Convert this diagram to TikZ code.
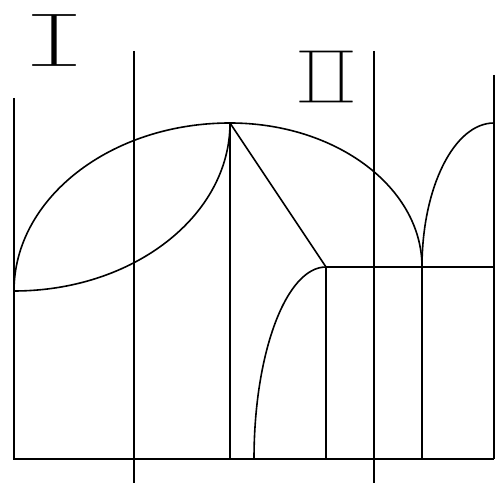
\documentclass[tikz,border=0pt]{standalone}
\usepackage{fontspec}
\newfontfamily\romanthin[FakeStretch=0.4]{DejaVu Serif}
\newcommand\erode[1]{\special{pdf:literal direct 2 Tr 1 1 1 RG #1 w}}
\begin{document}
\begin{tikzpicture}[x=1pt,y=1pt,line width=1.6pt,
  roman/.style={font=\romanthin\fontsize{74}{74}\selectfont,inner sep=0pt}]
\useasboundingbox (0,0) rectangle (497,486);
% named points
\coordinate (LT) at (14,388);
\coordinate (LB) at (14,27);
\coordinate (RB) at (494,27);
\coordinate (RT) at (494,411);
\coordinate (AT) at (134,435);
\coordinate (AB) at (134,3);
\coordinate (BT) at (374,435);
\coordinate (BB) at (374,3);
\coordinate (P) at (230,363);
\coordinate (PB) at (230,27);
\coordinate (Q) at (326,219);
\coordinate (QB) at (326,27);
\coordinate (E) at (422,219);
\coordinate (EB) at (422,27);
\coordinate (F) at (494,219);
\coordinate (L) at (14,195);
\coordinate (S) at (254,27);
% frame lines
\draw (LT) -- (LB) -- (RB);
\draw (RT) -- (RB);
\draw (AT) -- (AB);
\draw (BT) -- (BB);
\draw (P) -- (PB);
\draw (Q) -- (QB);
\draw (E) -- (EB);
\draw (Q) -- (F);
% curves
\draw (L) arc[start angle=180,end angle=90,x radius=216,y radius=168];
\draw (L) arc[start angle=270,end angle=360,x radius=216,y radius=168];
\draw (P) arc[start angle=90,end angle=0,x radius=192,y radius=144];
\draw (E) arc[start angle=180,end angle=90,x radius=72,y radius=144];
\draw (S) arc[start angle=180,end angle=90,x radius=72,y radius=192];
\draw (P) -- (Q);
% labels
\node[roman,xscale=7] (n1) at (54,446) {\erode{2.2}Ⅰ};
\node[roman,xscale=3.6] (n2) at (326,409.5) {\erode{2.1}Ⅱ};
\end{tikzpicture}
\end{document}
